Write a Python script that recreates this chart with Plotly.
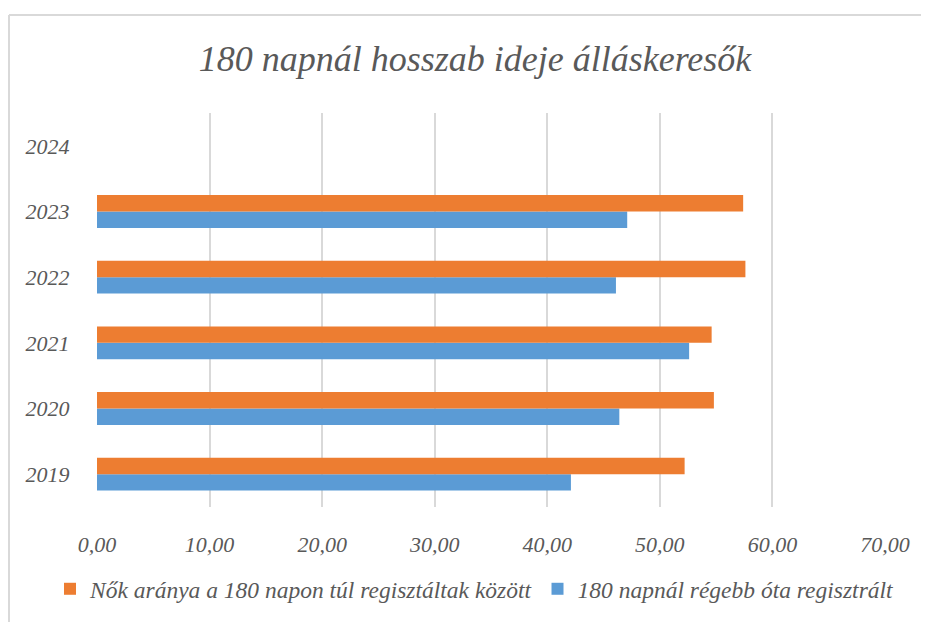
import plotly.graph_objects as go

years = ["2019", "2020", "2021", "2022", "2023", "2024"]
women_share = [52.2, 54.8, 54.6, 57.6, 57.4, None]
long_registered = [42.1, 46.4, 52.6, 46.1, 47.1, None]
x_ticks = [0, 10, 20, 30, 40, 50, 60, 70]
x_tick_labels = ["0,00", "10,00", "20,00", "30,00", "40,00", "50,00", "60,00", "70,00"]

name_orange = "Nők aránya a 180 napon túl regisztáltak között"
name_blue = "180 napnál régebb óta regisztrált"
title = "180 napnál hosszab ideje álláskeresők"

FONT = "'Liberation Serif', 'DejaVu Serif', serif"
GRAY = "#595959"

# page offset compensation (body margin)
OX, OY = 8, 8
L, T = 97 - OX, 113 - OY
R = OX + 929 - 885
B = OY + 622 - 507
PW, PH = 788, 394

fig = go.Figure()
fig.add_trace(go.Bar(y=years, x=long_registered, orientation="h", name="<i>" + name_blue + "</i>",
                     marker=dict(color="#5b9bd5", line=dict(width=0))))
fig.add_trace(go.Bar(y=years, x=women_share, orientation="h", name="<i>" + name_orange + "</i>",
                     marker=dict(color="#ed7d31", line=dict(width=0))))

fig.update_layout(
    width=929, height=622,
    margin=dict(l=L, r=R, t=T, b=B, autoexpand=False),
    paper_bgcolor="white", plot_bgcolor="white",
    barmode="group", bargap=0.5, bargroupgap=0,
    title=dict(text="<i>" + title + "</i>", x=(475 - 97) / PW, xref="paper", xanchor="center",
               y=(622 - 58 + OY) / 622, yref="container", yanchor="middle",
               font=dict(family=FONT, size=36, color=GRAY)),
    font=dict(family=FONT, color=GRAY),
    showlegend=True,
    legend=dict(orientation="h", traceorder="reversed", xref="paper",
                x=(50 - 97) / PW, xanchor="left",
                yref="paper", y=(507 - 567) / PH, yanchor="top",
                font=dict(family=FONT, size=23.5, color=GRAY),
                itemwidth=30, tracegroupgap=0),
    xaxis=dict(range=[0, 70], tickvals=x_ticks, ticktext=["<i>" + t + "</i>" for t in x_tick_labels],
               showgrid=True, gridcolor="#d9d9d9", gridwidth=1.5, zeroline=False,
               showline=False, ticks="outside", ticklen=18, tickcolor="rgba(0,0,0,0)",
               tickfont=dict(family=FONT, size=22, color=GRAY)),
    yaxis=dict(categoryorder="array", categoryarray=years,
               tickvals=years, ticktext=["<i>" + y + "</i>" for y in years],
               showgrid=False, zeroline=False,
               showline=False, ticks="outside", ticklen=22, tickcolor="rgba(0,0,0,0)",
               tickfont=dict(family=FONT, size=22, color=GRAY)),
)

# chart border (cropped at right and bottom in the reference)
fig.add_shape(type="line", xref="paper", yref="paper",
              x0=(9 - 97) / PW, x1=(940 - 97) / PW, y0=(507 - 15) / PH, y1=(507 - 15) / PH,
              line=dict(color="#d9d9d9", width=2))
fig.add_shape(type="line", xref="paper", yref="paper",
              x0=(9 - 97) / PW, x1=(9 - 97) / PW, y0=(507 - 15) / PH, y1=(507 - 640) / PH,
              line=dict(color="#d9d9d9", width=2))

fig.write_html("out.html")
